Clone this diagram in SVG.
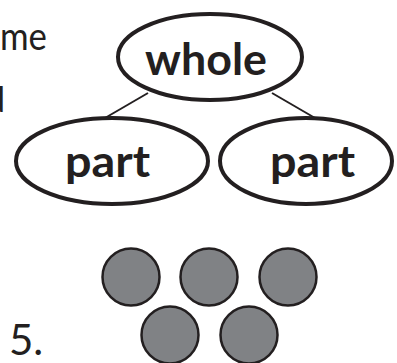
<svg xmlns="http://www.w3.org/2000/svg" width="397" height="363" viewBox="0 0 397 363">
<style>
.node ellipse{fill:#fff;stroke:#231f20;stroke-width:4}
.lbl{font-family:Lato,"Open Sans","DejaVu Sans",sans-serif;font-weight:bold;font-size:44px;fill:#231f20;text-anchor:middle}
.txt{font-family:Lato,"Open Sans","DejaVu Sans",sans-serif;font-size:35px;fill:#231f20}
.dot{fill:#808285;stroke:#231f20;stroke-width:2.5}
.conn line{stroke:#231f20;stroke-width:2}
</style>
<rect width="397" height="363" fill="#fff"/>
<text class="txt" x="0" y="50" style="font-size:38px" textLength="47" lengthAdjust="spacingAndGlyphs">me</text>
<text class="txt" x="5" y="112" text-anchor="end">d</text>
<g class="conn">
<line x1="148" y1="93" x2="105" y2="118"/>
<line x1="272" y1="93" x2="315" y2="118"/>
</g>
<g id="whole" class="node">
<ellipse cx="210" cy="57" rx="92" ry="43"/>
<text class="lbl" x="206" y="75" textLength="122" lengthAdjust="spacingAndGlyphs">whole</text>
</g>
<g id="part1" class="node">
<ellipse cx="112" cy="161" rx="96" ry="43"/>
<text class="lbl" x="107.5" y="177" textLength="85" lengthAdjust="spacingAndGlyphs">part</text>
</g>
<g id="part2" class="node">
<ellipse cx="306" cy="161" rx="86" ry="43"/>
<text class="lbl" x="312.5" y="177" textLength="85" lengthAdjust="spacingAndGlyphs">part</text>
</g>
<g id="dots">
<circle class="dot" cx="131" cy="277" r="28.5"/>
<circle class="dot" cx="209" cy="277" r="28.5"/>
<circle class="dot" cx="288" cy="277" r="28.5"/>
<circle class="dot" cx="170" cy="335" r="28.5"/>
<circle class="dot" cx="249" cy="335" r="28.5"/>
</g>
<text class="txt" x="9" y="355" style="font-size:42px">5.</text>
</svg>
